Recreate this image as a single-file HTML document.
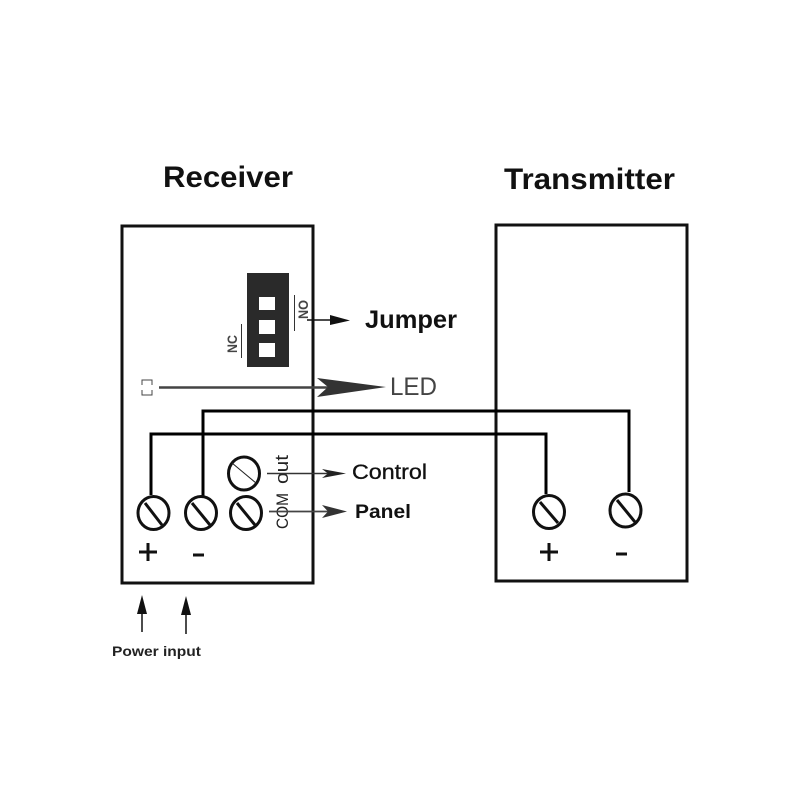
<!DOCTYPE html>
<html><head><meta charset="utf-8"><style>
html,body{margin:0;padding:0;background:#fff}
svg{display:block}
text{font-family:"Liberation Sans",sans-serif}
</style></head><body>
<svg width="800" height="800" viewBox="0 0 800 800" xmlns="http://www.w3.org/2000/svg">
<rect width="800" height="800" fill="#fff"/>
<text x="163" y="187" font-size="30" font-weight="bold" fill="#111" textLength="130" lengthAdjust="spacingAndGlyphs">Receiver</text>
<text x="504" y="189" font-size="30" font-weight="bold" fill="#111" textLength="171" lengthAdjust="spacingAndGlyphs">Transmitter</text>

<rect x="122" y="226" width="191" height="357" fill="none" stroke="#111" stroke-width="3"/>
<rect x="496" y="225" width="191" height="356" fill="none" stroke="#111" stroke-width="3"/>

<!-- jumper -->
<rect x="247" y="273" width="42" height="94" fill="#2a2a2a"/>
<rect x="259" y="297" width="16" height="13" fill="#fff"/>
<rect x="259" y="320" width="16" height="14" fill="#fff"/>
<rect x="259" y="343" width="16" height="14" fill="#fff"/>
<line x1="294.500" y1="295" x2="294.500" y2="331" stroke="#333" stroke-width="1"/>
<line x1="241.500" y1="324" x2="241.500" y2="358" stroke="#333" stroke-width="1"/>
<text transform="translate(308,319) rotate(-90)" font-size="14" font-weight="bold" fill="#444" textLength="19" lengthAdjust="spacingAndGlyphs">NO</text>
<text transform="translate(237,353) rotate(-90)" font-size="14" font-weight="bold" fill="#444" textLength="18" lengthAdjust="spacingAndGlyphs">NC</text>
<line x1="307" y1="320" x2="335" y2="320" stroke="#111" stroke-width="1.500"/>
<polygon points="330,315 350,320.500 330,325" fill="#111"/>
<text x="365" y="328" font-size="25" font-weight="bold" fill="#111" textLength="92" lengthAdjust="spacingAndGlyphs">Jumper</text>

<!-- LED -->
<path d="M142 385V380H152V385M142 390V395H152V390" fill="none" stroke="#444" stroke-width="1"/>
<line x1="159" y1="387.500" x2="330" y2="387.500" stroke="#444" stroke-width="2.500"/>
<polygon points="317,378 386,387 317,397 328,387" fill="#333"/>
<text x="390" y="395" font-size="25" fill="#444" textLength="47" lengthAdjust="spacingAndGlyphs">LED</text>

<!-- wires -->
<path d="M203 497V411H629V492" fill="none" stroke="#000" stroke-width="3"/>
<path d="M151 495V434H546V494" fill="none" stroke="#000" stroke-width="3"/>

<!-- screws -->
<g fill="#fff" stroke="#111" stroke-width="3">
<ellipse cx="244" cy="473.500" rx="15.500" ry="16.500"/>
<ellipse cx="153.500" cy="513" rx="15.500" ry="16.500"/>
<ellipse cx="201" cy="513" rx="15.500" ry="16.500"/>
<ellipse cx="246" cy="513" rx="15.500" ry="16.500"/>
<ellipse cx="549" cy="512" rx="15.500" ry="16.500"/>
<ellipse cx="625.500" cy="510.500" rx="15.500" ry="16.500"/>
</g>
<g stroke="#111" stroke-width="3">
<line x1="145" y1="503" x2="162" y2="525"/>
<line x1="192" y1="503" x2="210" y2="525"/>
<line x1="237" y1="503" x2="255" y2="525"/>
<line x1="540" y1="502" x2="558" y2="523"/>
<line x1="617" y1="500" x2="635" y2="522"/>
</g>
<line x1="232" y1="463" x2="256" y2="483" stroke="#222" stroke-width="1"/>

<text transform="translate(288,529) rotate(-90)" font-size="17" fill="#222" textLength="36" lengthAdjust="spacingAndGlyphs">COM</text>
<text transform="translate(288,484) rotate(-90)" font-size="18" fill="#222" textLength="29" lengthAdjust="spacingAndGlyphs">out</text>

<line x1="267" y1="473.500" x2="335" y2="473.500" stroke="#333" stroke-width="1.500"/>
<polygon points="322,469 346,473.500 322,478 328,473.500" fill="#222"/>
<text x="352" y="479" font-size="21" fill="#111" stroke="#111" stroke-width="0.300" textLength="75" lengthAdjust="spacingAndGlyphs">Control</text>
<line x1="269" y1="511.500" x2="335" y2="511.500" stroke="#444" stroke-width="1.800"/>
<polygon points="322,505 347,511.500 322,518 328,511.500" fill="#333"/>
<text x="355" y="518" font-size="19" font-weight="bold" fill="#111" textLength="56" lengthAdjust="spacingAndGlyphs">Panel</text>

<!-- plus/minus -->
<g stroke="#111" stroke-width="3">
<line x1="139" y1="552" x2="157" y2="552"/>
<line x1="148" y1="543" x2="148" y2="561"/>
<line x1="540" y1="552" x2="558" y2="552"/>
<line x1="549" y1="543" x2="549" y2="561"/>
<line x1="193" y1="555" x2="204" y2="555"/>
<line x1="616" y1="554" x2="627" y2="554"/>
</g>

<!-- power arrows -->
<line x1="142" y1="605" x2="142" y2="632" stroke="#111" stroke-width="1.500"/>
<polygon points="142,595 147,614 137,614" fill="#111"/>
<line x1="186" y1="605" x2="186" y2="634" stroke="#111" stroke-width="1.500"/>
<polygon points="186,596 191,615 181,615" fill="#111"/>
<text x="112" y="656" font-size="14" font-weight="bold" fill="#222" textLength="89" lengthAdjust="spacingAndGlyphs">Power input</text>
</svg>
</body></html>
